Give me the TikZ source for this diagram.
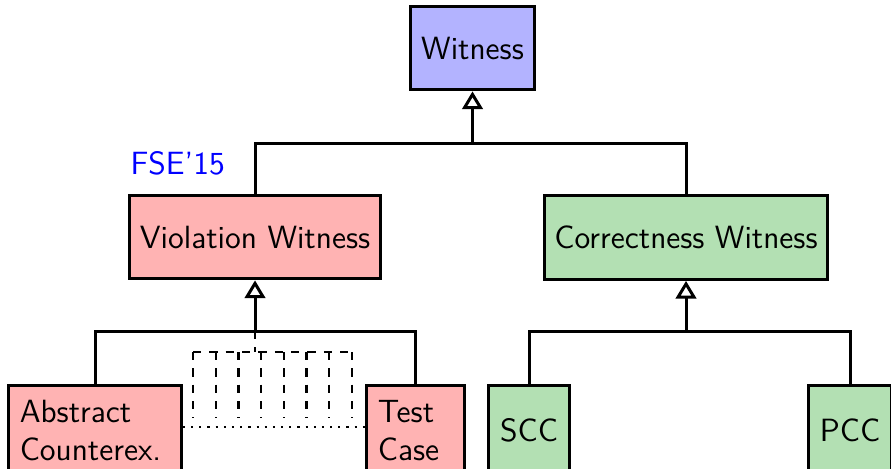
\documentclass[tikz,border=0pt]{standalone}
\usepackage{tikz}
\usepackage{xcolor}
\usetikzlibrary{arrows.meta,positioning,calc}
\definecolor{WitBlue}{RGB}{179,179,255}
\definecolor{ViolRed}{RGB}{255,179,179}
\definecolor{CorrGreen}{RGB}{179,224,179}
\tikzset{
  cbox/.style={draw=black,rectangle,line width=1.1pt,inner xsep=3.8pt,
               minimum height=1.08cm,font=\sffamily\fontsize{11.8}{14.1}\selectfont},
  bbox/.style={cbox,fill=WitBlue},
  rbox/.style={cbox,fill=ViolRed},
  gbox/.style={cbox,fill=CorrGreen},
  leafbox/.style={anchor=north,align=left,inner xsep=4.1pt,minimum height=1.16cm},
  inh/.style={-{Triangle[open,length=6.5pt,width=7.5pt,line width=1.1pt]},line width=1.1pt},
  conn/.style={line width=1.1pt},
  hid/.style={dashed,thick},
}

\begin{document}
\begin{tikzpicture}[x=0.0129cm,y=-0.0129cm]
        \useasboundingbox (0,0) rectangle (891,468);
        \node[bbox] (wit) at (472.5,48) {Witness};
        \node[rbox] (viol) at (255,237) {Violation Witness};
        \node[gbox] (corr) at (686,237.5) {Correctness Witness};
        \node[rbox,leafbox,text width=1.94cm] (abs) at (95,384) {Abstract\\Counterex.};
        \node[rbox,leafbox,text width=0.97cm] (test) at (415.5,384) {Test\\Case};
        \node[gbox,leafbox] (scc) at (529,384) {SCC};
        \node[gbox,leafbox] (pcc) at (850,384) {PCC};
        \node[anchor=west,inner sep=0pt,text=blue,font=\sffamily\fontsize{11.8}{14.1}\selectfont] (fse) at (130,163) {FSE'15};
        % bars of the tree
        \coordinate (wj) at (wit.south |- 0,143);
        \coordinate (vj) at (viol.south |- 0,331);
        \coordinate (cj) at (corr.south |- 0,331);
        \draw[conn] (viol.north) |- (wj) -| (corr.north);
        \draw[conn] (abs.north) |- (vj) -| (test.north);
        \draw[conn] (scc.north) |- (cj) -| (pcc.north);
        \draw[inh] (wj) -- (wit.south);
        \draw[inh] (vj) -- (viol.south);
        \draw[inh] (cj) -- (corr.south);
        % hidden children
        \coordinate (hj) at (vj |- 0,352);
        \draw[hid] (vj) -- (hj);
        \draw[hid] (193,352) -- (352,352);
        \foreach \i in {0,...,7}
          \draw[hid] (193+22.714*\i,352) -- (193+22.714*\i,418);
        \draw[thick,dash pattern=on 0.8pt off 2.2pt] (abs.east |- 0,427) -- (test.west |- 0,427);
      \end{tikzpicture}
\end{document}
